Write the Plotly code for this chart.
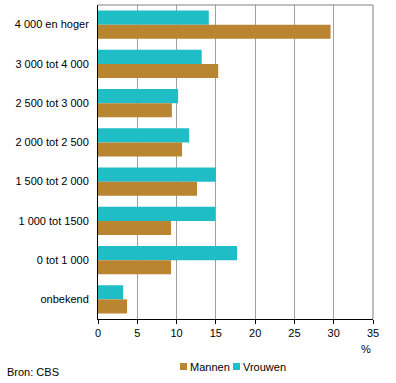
import plotly.graph_objects as go

categories = ["4 000 en hoger", "3 000 tot 4 000", "2 500 tot 3 000", "2 000 tot 2 500",
              "1 500 tot 2 000", "1 000 tot 1500", "0 tot 1 000", "onbekend"]
mannen = [29.6, 15.3, 9.4, 10.7, 12.6, 9.3, 9.3, 3.7]
vrouwen = [14.1, 13.2, 10.2, 11.6, 15.0, 14.9, 17.7, 3.2]
x_ticks = [0, 5, 10, 15, 20, 25, 30, 35]
legend_labels = ["Mannen", "Vrouwen"]

FONT = "Liberation Sans, Arial, sans-serif"
C_M = "#B98530"
C_V = "#1FBDC6"

fig = go.Figure()
fig.add_trace(go.Bar(y=categories, x=vrouwen, name="Vrouwen", orientation="h",
                     marker=dict(color=C_V, line=dict(width=0))))
fig.add_trace(go.Bar(y=categories, x=mannen, name="Mannen", orientation="h",
                     marker=dict(color=C_M, line=dict(width=0))))

# manual legend (paper coordinates)
legend_shapes = []
legend_annots = []
for lbl, col, sx0, sx1, tx in [(legend_labels[0], C_M, 0.298, 0.3236, 0.327),
                               (legend_labels[1], C_V, 0.4909, 0.5164, 0.519)]:
    legend_shapes.append(dict(type="rect", xref="paper", yref="paper", x0=sx0, x1=sx1,
                              y0=-0.1624, y1=-0.1401, fillcolor=col, line=dict(width=0)))
    legend_annots.append(dict(text=lbl, xref="paper", yref="paper", x=tx, y=-0.1513,
                              xanchor="left", yanchor="middle", showarrow=False,
                              font=dict(size=11)))

fig.update_layout(
    width=396, height=383,
    margin=dict(l=98, r=23, t=5, b=64, autoexpand=False),
    paper_bgcolor="white", plot_bgcolor="white",
    barmode="group", bargap=0.28, bargroupgap=0,
    font=dict(family=FONT, size=11, color="black"),
    showlegend=False,
    xaxis=dict(range=[0, 35], tickvals=x_ticks, showgrid=True, gridcolor="#A0A0A0",
               gridwidth=1, zeroline=False, showline=True, linecolor="black",
               linewidth=1, ticks="outside", ticklen=4, tickcolor="black",
               tickfont=dict(size=11), automargin=False),
    yaxis=dict(autorange="reversed", showgrid=False, zeroline=False, showline=True,
               linecolor="black", linewidth=1, ticks="", ticklabelstandoff=6,
               tickfont=dict(size=11), automargin=False),
    shapes=[
        dict(type="line", xref="paper", yref="paper", x0=0, x1=1, y0=1, y1=1,
             line=dict(color="#808080", width=1), layer="above"),
        dict(type="line", xref="paper", yref="paper", x0=1, x1=1, y0=0, y1=1,
             line=dict(color="#808080", width=1), layer="above"),
    ] + legend_shapes,
    annotations=[
        dict(text="%", xref="paper", yref="paper", x=1, y=0, xanchor="right",
             yanchor="middle", yshift=-30, showarrow=False, font=dict(size=11)),
        dict(text="Bron: CBS", xref="paper", yref="paper", x=0, y=0, xanchor="left",
             yanchor="middle", xshift=-93, yshift=-53, showarrow=False, font=dict(size=11)),
    ] + legend_annots,
)

fig.write_html("out.html",
               config={"displayModeBar": False, "staticPlot": True},
               post_script="document.body.style.margin='0';document.body.style.overflow='hidden';")
